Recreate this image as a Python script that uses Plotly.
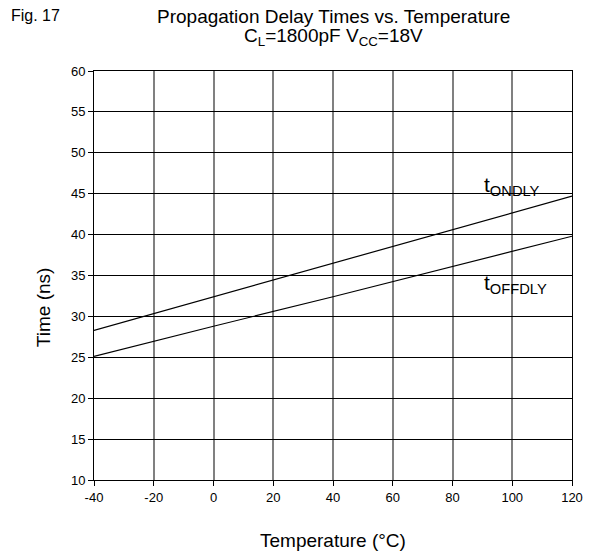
import plotly.graph_objects as go

temps = [-40, 0, 40, 80, 120]
t_on = [28.3, 32.4, 36.5, 40.6, 44.7]
t_off = [25.1, 28.8, 32.4, 36.1, 39.8]
x_ticks = [-40, -20, 0, 20, 40, 60, 80, 100, 120]
y_ticks = [10, 15, 20, 25, 30, 35, 40, 45, 50, 55, 60]

SANS = "Liberation Sans, Arial"
W, H = 594, 558
L, R, T, B = 94, 11, 71, 78
PW, PH = W - L - R, H - T - B


def px(xp):
    return (xp - L) / PW


def py(yp):
    return 1 - (yp - T) / PH


fig = go.Figure()
fig.add_trace(go.Scatter(x=temps, y=t_on, mode="lines", line=dict(color="black", width=1.2), name="tONDLY"))
fig.add_trace(go.Scatter(x=temps, y=t_off, mode="lines", line=dict(color="black", width=1.2), name="tOFFDLY"))

ann = [
    dict(text="Propagation Delay Times vs. Temperature", x=px(339), y=py(17),
         xanchor="center", yanchor="middle", font=dict(size=19)),
    dict(text="C<sub>L</sub>=1800pF V<sub>CC</sub>=18V", x=px(339), y=py(37),
         xanchor="center", yanchor="middle", font=dict(size=19)),
    dict(text="Fig. 17", x=px(7), y=py(15), xanchor="left", yanchor="middle", font=dict(size=16)),
    dict(text="Time (ns)", x=px(42), y=py(307), xanchor="center", yanchor="middle",
         textangle=-90, font=dict(size=19)),
    dict(text="Temperature (°C)", x=px(339), y=py(540), xanchor="center", yanchor="middle",
         font=dict(size=19)),
    dict(text="t<sub>ONDLY</sub>", x=90, y=46.0, xref="x", yref="y", xanchor="left",
         yanchor="middle", font=dict(size=21)),
    dict(text="t<sub>OFFDLY</sub>", x=90, y=34.0, xref="x", yref="y", xanchor="left",
         yanchor="middle", font=dict(size=21)),
]
for a in ann:
    a.setdefault("xref", "paper")
    a.setdefault("yref", "paper")
    a["showarrow"] = False

fig.update_layout(
    width=W, height=H,
    margin=dict(l=L, r=R, t=T, b=B),
    paper_bgcolor="white", plot_bgcolor="white",
    showlegend=False,
    font=dict(family=SANS, color="black", size=13),
    annotations=ann,
)

fig.update_xaxes(
    range=[-40, 120], tickvals=x_ticks, ticktext=[str(v) for v in x_ticks],
    showgrid=True, gridcolor="#808080", gridwidth=1.5,
    showline=True, linecolor="black", linewidth=1, mirror=True,
    ticks="outside", ticklen=5, tickcolor="black",
    tickfont=dict(size=13),
    zeroline=False,
)
fig.update_yaxes(
    range=[10, 60], tickvals=y_ticks, ticktext=[str(v) for v in y_ticks],
    showgrid=True, gridcolor="black", gridwidth=1,
    showline=True, linecolor="black", linewidth=1, mirror=True,
    ticks="outside", ticklen=5, tickcolor="black",
    tickfont=dict(size=13),
    zeroline=False,
)

fig.write_html(
    "out.html",
    config={"displayModeBar": False},
    post_script="document.body.style.margin='0';document.body.style.overflow='hidden';",
)
